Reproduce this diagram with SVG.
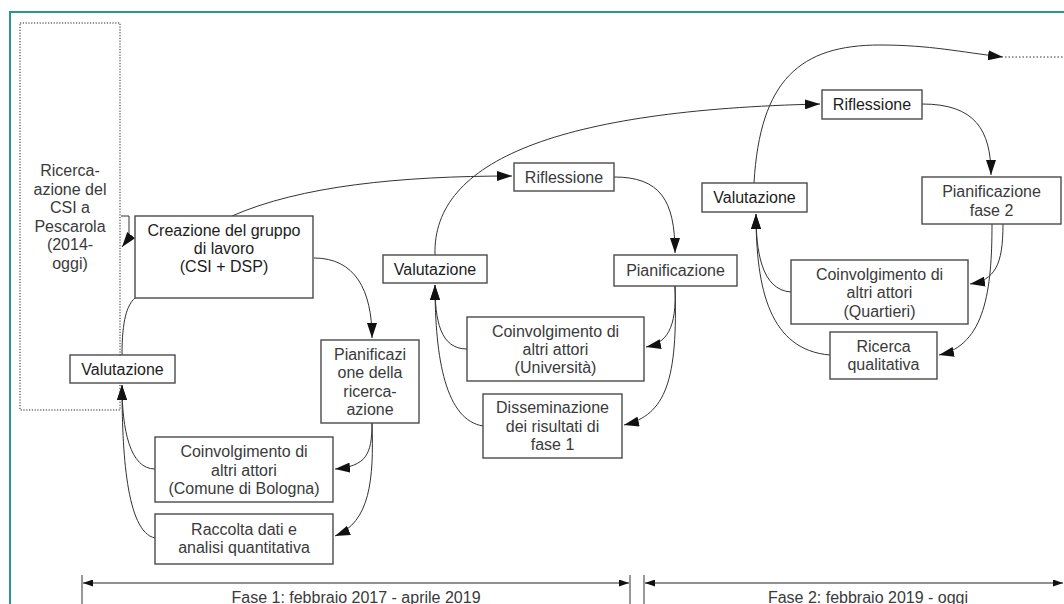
<svg xmlns="http://www.w3.org/2000/svg" width="1064" height="604" viewBox="0 0 1064 604">
<style>
.box{fill:#fff;stroke:#4a4a4a;stroke-width:1.4}
.t{font-family:"Liberation Sans",Arial,sans-serif;font-size:16px;fill:#3a3a3a;text-anchor:middle}
.d{fill:#1c1c1c}
.c{fill:none;stroke:#333;stroke-width:1}
.a{marker-end:url(#ah)}
.tl{fill:none;stroke:#222;stroke-width:1.2;marker-start:url(#sa);marker-end:url(#sa)}
</style>
<defs>
<marker id="ah" viewBox="0 0 15 10" refX="15" refY="5" markerWidth="15" markerHeight="10" markerUnits="userSpaceOnUse" orient="auto"><path d="M0,0 L15,5 L0,10 z" fill="#111"/></marker>
<marker id="sa" viewBox="0 0 10 7" refX="10" refY="3.5" markerWidth="10" markerHeight="7" markerUnits="userSpaceOnUse" orient="auto-start-reverse"><path d="M0,0 L10,3.5 L0,7 z" fill="#111"/></marker>
</defs>
<rect x="0" y="0" width="1064" height="604" fill="#fff"/>
<rect x="10" y="12" width="1100" height="700" fill="none" stroke="#2b968f" stroke-width="2"/>

<g id="connectors">
<path class="c" d="M121,216 H129 V238 L122,247" marker-end="url(#ah)"/>
<path class="c a" d="M232,216 C300,186 400,176 512,176"/>
<path class="c a" d="M314,258 C355,258 372,290 372,338"/>
<path class="c a" d="M372,423 C372,455 366,466 335,469"/>
<path class="c a" d="M372,423 C374,480 370,522 335,536"/>
<path class="c a" d="M155,469 C130,469 122,430 122,385"/>
<path class="c a" d="M155,538 C126,532 122,450 122,385"/>
<path class="c" d="M122,355 C122,320 127,305 135,298"/>
<path class="c a" d="M614,177 C660,177 675,200 675,253"/>
<path class="c a" d="M675,286 C677,330 666,343 646,347"/>
<path class="c a" d="M675,286 C678,380 666,415 624,425"/>
<path class="c a" d="M467,349 C440,349 435,320 435,285"/>
<path class="c a" d="M483,426 C446,420 435,360 435,285"/>
<path class="c a" d="M435,255 C432,160 560,110 820,104"/>
<path class="c a" d="M922,104 C975,104 991,130 991,175"/>
<path class="c a" d="M1003,224 C1003,265 995,280 970,284"/>
<path class="c a" d="M992,224 C992,290 985,345 939,355"/>
<path class="c a" d="M791,292 C761,290 756,250 756,214"/>
<path class="c a" d="M830,355 C770,350 756,290 756,214"/>
<path class="c a" d="M754,183 C760,80 800,45 880,45 C930,45 960,52 1003,57"/>
<path class="c" d="M1005,57 H1064" stroke-dasharray="1.5,2"/>
<path class="c" d="M82,575 V604 M630,575 V604 M644,575 V604"/>
<path class="tl" d="M83,583 H629"/>
<path class="tl" d="M645,583 H1063"/>
</g>

<g id="ricerca-pescarola">
<rect x="20" y="23" width="100" height="387" fill="none" stroke="#222" stroke-width="1" stroke-dasharray="1.2,1.6"/>
<text class="t" x="70" y="176">Ricerca-</text>
<text class="t" x="70" y="194.5">azione del</text>
<text class="t" x="70" y="213">CSI a</text>
<text class="t" x="70" y="231.5">Pescarola</text>
<text class="t" x="70" y="250">(2014-</text>
<text class="t" x="70" y="268.5">oggi)</text>
</g>

<g id="creazione">
<rect class="box" x="135" y="216" width="178" height="82"/>
<text class="t d" x="224" y="236">Creazione del gruppo</text>
<text class="t d" x="224" y="254">di lavoro</text>
<text class="t d" x="224" y="272">(CSI + DSP)</text>
</g>

<g id="valutazione1">
<rect class="box" x="70" y="355" width="105" height="28"/>
<text class="t d" x="122.5" y="375">Valutazione</text>
</g>

<g id="pianificazione1">
<rect class="box" x="321" y="340" width="98" height="83"/>
<text class="t" x="370" y="360">Pianificazi</text>
<text class="t" x="370" y="378">one della</text>
<text class="t" x="370" y="396.5">ricerca-</text>
<text class="t" x="370" y="415">azione</text>
</g>

<g id="coinvolgimento-comune">
<rect class="box" x="155" y="437" width="178" height="65"/>
<text class="t" x="244" y="457">Coinvolgimento di</text>
<text class="t" x="244" y="475.5">altri attori</text>
<text class="t" x="244" y="494">(Comune di Bologna)</text>
</g>

<g id="raccolta">
<rect class="box" x="155" y="514" width="178" height="50"/>
<text class="t" x="244" y="535">Raccolta dati e</text>
<text class="t" x="244" y="553">analisi quantitativa</text>
</g>

<g id="riflessione1">
<rect class="box" x="514" y="163" width="100" height="28"/>
<text class="t" x="564" y="182.5">Riflessione</text>
</g>

<g id="valutazione2">
<rect class="box" x="383" y="255" width="104" height="28"/>
<text class="t d" x="435" y="275">Valutazione</text>
</g>

<g id="pianificazione2">
<rect class="box" x="614" y="255" width="123" height="31"/>
<text class="t" x="675.5" y="276">Pianificazione</text>
</g>

<g id="coinvolgimento-universita">
<rect class="box" x="467" y="317" width="177" height="64"/>
<text class="t" x="555.5" y="337">Coinvolgimento di</text>
<text class="t" x="555.5" y="355">altri attori</text>
<text class="t" x="555.5" y="373">(Università)</text>
</g>

<g id="disseminazione">
<rect class="box" x="483" y="394" width="139" height="64"/>
<text class="t" x="552.5" y="413">Disseminazione</text>
<text class="t" x="552.5" y="431.5">dei risultati di</text>
<text class="t" x="552.5" y="450">fase 1</text>
</g>

<g id="riflessione2">
<rect class="box" x="822" y="90" width="100" height="29"/>
<text class="t d" x="872" y="110">Riflessione</text>
</g>

<g id="pianificazione-fase2">
<rect class="box" x="922" y="177" width="139" height="47"/>
<text class="t" x="991.5" y="197">Pianificazione</text>
<text class="t" x="991.5" y="215.5">fase 2</text>
</g>

<g id="valutazione3">
<rect class="box" x="702" y="183" width="105" height="29"/>
<text class="t d" x="754.5" y="203">Valutazione</text>
</g>

<g id="coinvolgimento-quartieri">
<rect class="box" x="791" y="260" width="177" height="64"/>
<text class="t" x="879.5" y="280">Coinvolgimento di</text>
<text class="t" x="879.5" y="298">altri attori</text>
<text class="t" x="879.5" y="316.5">(Quartieri)</text>
</g>

<g id="ricerca-qualitativa">
<rect class="box" x="830" y="332" width="107" height="47"/>
<text class="t" x="883.5" y="352">Ricerca</text>
<text class="t" x="883.5" y="370">qualitativa</text>
</g>

<g id="timeline">
<text class="t" x="356" y="603">Fase 1: febbraio 2017 - aprile 2019</text>
<text class="t" x="868" y="603">Fase 2: febbraio 2019 - oggi</text>
</g>
</svg>
